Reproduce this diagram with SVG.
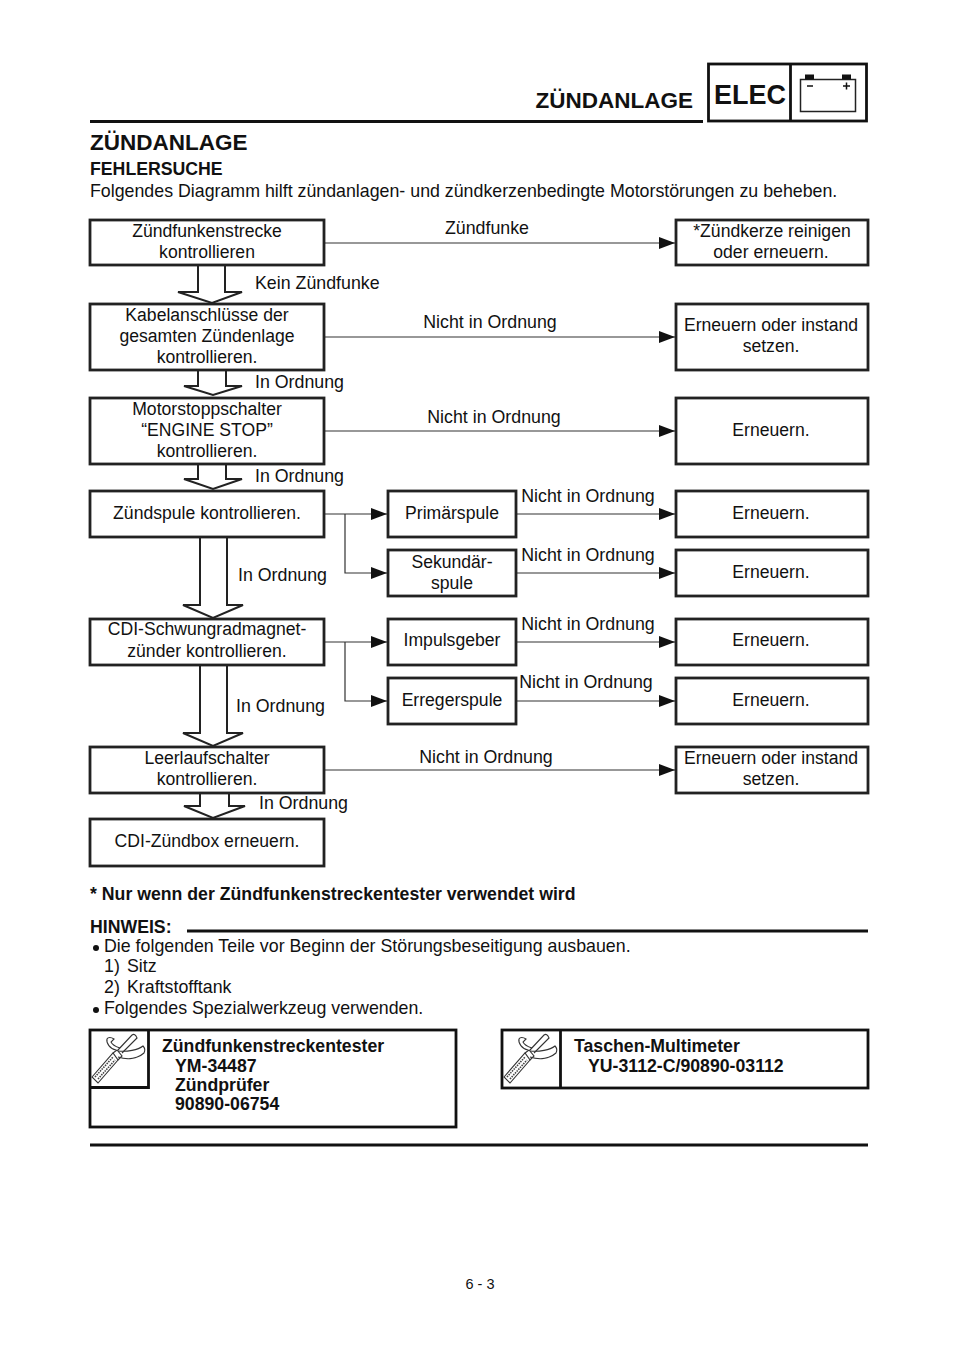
<svg xmlns="http://www.w3.org/2000/svg" width="960" height="1358" viewBox="0 0 960 1358">
<style>
text{font-family:"Liberation Sans",Arial,sans-serif;font-size:17.8px;fill:#111}
.m{text-anchor:middle}
.b{font-weight:bold}
.n{fill:#fff;stroke:#222;stroke-width:2.8}
.c{fill:none;stroke:#333;stroke-width:1.2}
.d{fill:none;stroke:#222;stroke-width:2}
.r{fill:none;stroke:#111;stroke-width:2.8}
.t{fill:none;stroke:#333;stroke-width:1.1}
.s{font-size:17.8px}
.h{font-size:17.7px;font-weight:bold}
.nodes text{font-size:17.6px}
</style>
<defs>
<marker id="a" markerUnits="userSpaceOnUse" markerWidth="18" markerHeight="12" refX="16" refY="6" orient="auto"><path d="M0 0L16 6L0 12Z" fill="#111"/></marker>
<g id="tool">
<path class="t" d="M2 47L23 23L28 30L8 53Z"/>
<path d="M5 47L23 27M8 49L25 30" fill="none" stroke="#444" stroke-width="1.600" stroke-dasharray="1.500 1"/>
<path class="t" d="M23 23L27 20L32 26L28 30"/>
<path class="t" d="M28 20L42 5Q45 3 47 8L32 23"/>
<path class="t" d="M28 21C37 22 48 20 53 16Q56 19 54 23C47 29 37 30 28 27"/>
<path class="t" d="M26 20C20 19 16 13 17 9C18 7 21 7 24 9L21 12C23 16 27 17 30 18"/>
</g>
</defs>
<g id="header">
<text x="693" y="108" text-anchor="end" class="b" style="font-size:22.5px">ZÜNDANLAGE</text>
<path class="r" d="M90 121.500H703"/>
<rect class="r" x="708.500" y="64" width="158" height="57"/>
<path class="r" d="M790.500 64V121"/>
<text x="750" y="104" class="m b" style="font-size:27px">ELEC</text>
<rect x="800.500" y="79.500" width="55" height="32" fill="none" stroke="#222" stroke-width="1.500"/>
<rect x="805" y="74.500" width="9" height="5" fill="#111"/><rect x="842" y="74.500" width="9" height="5" fill="#111"/>
<path d="M807 86h6M843 86h7M846.500 82.500v7" stroke="#111" stroke-width="1.500" fill="none"/>
</g>
<text x="90" y="150" class="b" style="font-size:22.500px">ZÜNDANLAGE</text>
<text x="90" y="175" class="h">FEHLERSUCHE</text>
<text x="90" y="197" class="s">Folgendes Diagramm hilft zündanlagen- und zündkerzenbedingte Motorstörungen zu beheben.</text>
<g id="connectors">
<path class="c" marker-end="url(#a)" d="M325 243H675"/>
<path class="c" marker-end="url(#a)" d="M325 337H675"/>
<path class="c" marker-end="url(#a)" d="M325 431H675"/>
<path class="c" marker-end="url(#a)" d="M325 514H387"/>
<path class="c" marker-end="url(#a)" d="M345 514V573H387"/>
<path class="c" marker-end="url(#a)" d="M517 514H675"/>
<path class="c" marker-end="url(#a)" d="M517 573H675"/>
<path class="c" marker-end="url(#a)" d="M325 642H387"/>
<path class="c" marker-end="url(#a)" d="M345 642V701H387"/>
<path class="c" marker-end="url(#a)" d="M517 642H675"/>
<path class="c" marker-end="url(#a)" d="M517 701H675"/>
<path class="c" marker-end="url(#a)" d="M325 770H675"/>
<path class="d" d="M198 266V292H178L212 303L242 292H225V266"/>
<path class="d" d="M198 371V386H184L213 395L242 386H226V371"/>
<path class="d" d="M198 465V479H184L213 489L242 479H226V465"/>
<path class="d" d="M200 538V605H183L213 618L243 605H227V538"/>
<path class="d" d="M200 666V733H183L213 746L243 733H227V666"/>
<path class="d" d="M200 794V806H184L213 818L245 806H229V794"/>
</g>
<g class="nodes">
<g id="n1"><rect class="n" x="90" y="220" width="234" height="45"/><text class="m" x="207" y="237">Zündfunkenstrecke</text><text class="m" x="207" y="258">kontrollieren</text></g>
<g id="n2"><rect class="n" x="676" y="220" width="192" height="45"/><text class="m" x="772" y="237">*Zündkerze reinigen</text><text class="m" x="771" y="258">oder erneuern.</text></g>
<g id="n3"><rect class="n" x="90" y="304" width="234" height="66"/><text class="m" x="207" y="321">Kabelanschlüsse der</text><text class="m" x="207" y="342">gesamten Zündenlage</text><text class="m" x="207" y="363">kontrollieren.</text></g>
<g id="n4"><rect class="n" x="676" y="304" width="192" height="66"/><text class="m" x="771" y="331">Erneuern oder instand</text><text class="m" x="771" y="352">setzen.</text></g>
<g id="n5"><rect class="n" x="90" y="398" width="234" height="66"/><text class="m" x="207" y="415">Motorstoppschalter</text><text class="m" x="207" y="436">“ENGINE STOP”</text><text class="m" x="207" y="457">kontrollieren.</text></g>
<g id="n6"><rect class="n" x="676" y="398" width="192" height="66"/><text class="m" x="771" y="436">Erneuern.</text></g>
<g id="n7"><rect class="n" x="90" y="491" width="234" height="46"/><text class="m" x="207" y="519">Zündspule kontrollieren.</text></g>
<g id="n8"><rect class="n" x="388" y="491" width="128" height="46"/><text class="m" x="452" y="519">Primärspule</text></g>
<g id="n9"><rect class="n" x="676" y="491" width="192" height="46"/><text class="m" x="771" y="519">Erneuern.</text></g>
<g id="n10"><rect class="n" x="388" y="550" width="128" height="46"/><text class="m" x="452" y="568">Sekundär-</text><text class="m" x="452" y="589">spule</text></g>
<g id="n11"><rect class="n" x="676" y="550" width="192" height="46"/><text class="m" x="771" y="578">Erneuern.</text></g>
<g id="n12"><rect class="n" x="90" y="619" width="234" height="46"/><text class="m" x="207" y="635">CDI-Schwungradmagnet-</text><text class="m" x="207" y="657">zünder kontrollieren.</text></g>
<g id="n13"><rect class="n" x="388" y="619" width="128" height="46"/><text class="m" x="452" y="646">Impulsgeber</text></g>
<g id="n14"><rect class="n" x="676" y="619" width="192" height="46"/><text class="m" x="771" y="646">Erneuern.</text></g>
<g id="n15"><rect class="n" x="388" y="678" width="128" height="46"/><text class="m" x="452" y="706">Erregerspule</text></g>
<g id="n16"><rect class="n" x="676" y="678" width="192" height="46"/><text class="m" x="771" y="706">Erneuern.</text></g>
<g id="n17"><rect class="n" x="90" y="747" width="234" height="46"/><text class="m" x="207" y="764">Leerlaufschalter</text><text class="m" x="207" y="785">kontrollieren.</text></g>
<g id="n18"><rect class="n" x="676" y="747" width="192" height="46"/><text class="m" x="771" y="764">Erneuern oder instand</text><text class="m" x="771" y="785">setzen.</text></g>
<g id="n19"><rect class="n" x="90" y="819" width="234" height="47"/><text class="m" x="207" y="847">CDI-Zündbox erneuern.</text></g>
</g>
<g id="labels">
<text x="487" y="234" class="m">Zündfunke</text>
<text x="255" y="289">Kein Zündfunke</text>
<text x="490" y="328" class="m">Nicht in Ordnung</text>
<text x="255" y="388">In Ordnung</text>
<text x="494" y="423" class="m">Nicht in Ordnung</text>
<text x="255" y="482">In Ordnung</text>
<text x="588" y="502" class="m">Nicht in Ordnung</text>
<text x="588" y="561" class="m">Nicht in Ordnung</text>
<text x="238" y="581">In Ordnung</text>
<text x="588" y="630" class="m">Nicht in Ordnung</text>
<text x="586" y="688" class="m">Nicht in Ordnung</text>
<text x="236" y="712">In Ordnung</text>
<text x="486" y="763" class="m">Nicht in Ordnung</text>
<text x="259" y="809">In Ordnung</text>
</g>
<text x="90" y="900" class="h">* Nur wenn der Zündfunkenstreckentester verwendet wird</text>
<text x="90" y="933" class="h">HINWEIS:</text>
<path class="r" d="M187 931H868"/>
<circle cx="96" cy="948" r="3" fill="#111"/>
<text x="104" y="952" class="s">Die folgenden Teile vor Beginn der Störungsbeseitigung ausbauen.</text>
<text x="104" y="972" class="s">1)</text><text x="127" y="972" class="s">Sitz</text>
<text x="104" y="993" class="s">2)</text><text x="127" y="993" class="s">Kraftstofftank</text>
<circle cx="96" cy="1010" r="3" fill="#111"/>
<text x="104" y="1014" class="s">Folgendes Spezialwerkzeug verwenden.</text>
<g id="tool1">
<rect class="r" x="90" y="1030" width="366" height="97"/>
<path class="r" d="M90 1087.500H148.500V1030"/>
<use href="#tool" x="90" y="1030"/>
<text x="162" y="1052" class="h">Zündfunkenstreckentester</text>
<text x="175" y="1072" class="h">YM-34487</text>
<text x="175" y="1091" class="h">Zündprüfer</text>
<text x="175" y="1110" class="h">90890-06754</text>
</g>
<g id="tool2">
<rect class="r" x="502" y="1030" width="366" height="58"/>
<path class="r" d="M560.500 1030V1088"/>
<use href="#tool" x="502" y="1030"/>
<text x="574" y="1052" class="h">Taschen-Multimeter</text>
<text x="588" y="1072" class="h">YU-3112-C/90890-03112</text>
</g>
<path class="r" d="M90 1145H868"/>
<text x="480" y="1289" class="m" style="font-size:14.500px">6 - 3</text>
</svg>
